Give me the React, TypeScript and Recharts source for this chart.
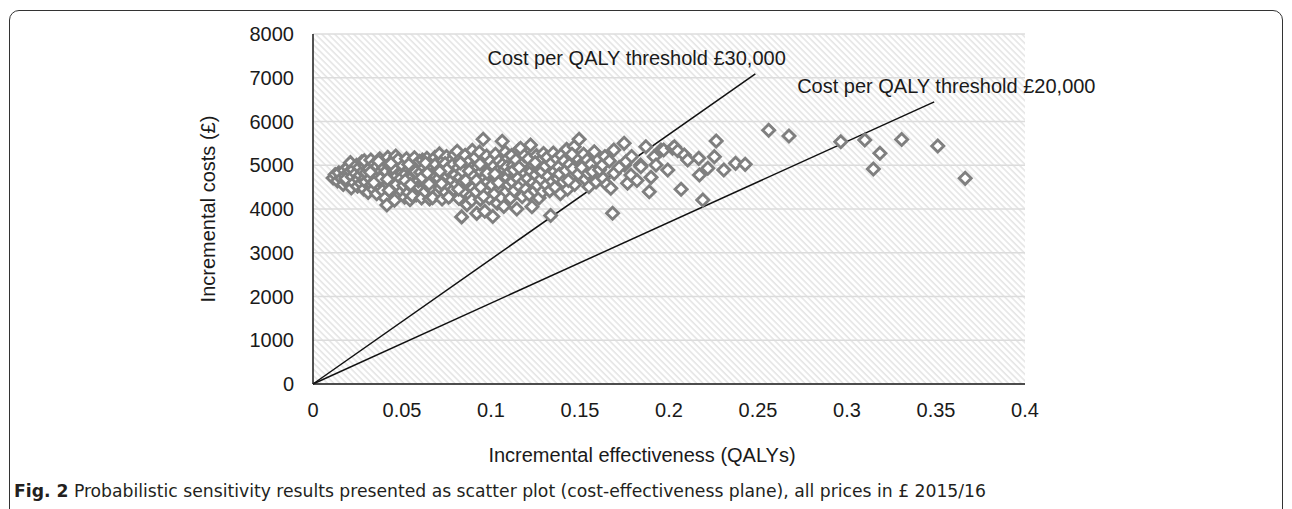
import {
  ScatterChart,
  Scatter,
  XAxis,
  YAxis,
  ZAxis,
  CartesianGrid,
  ReferenceLine,
  ReferenceDot,
} from "recharts"

// x = incremental QALYs, y = incremental cost (£)
const bandA: [number, number][] = [
  [0.0113, 4710], [0.0125, 4790], [0.0138, 4640], [0.0145, 4830],
  [0.016, 4700], [0.017, 4560], [0.0175, 4880], [0.018, 4760], [0.019, 4620], [0.0195, 4950], [0.0198, 4820], [0.0185, 4690],
  [0.021, 5060], [0.0215, 4480], [0.022, 4740], [0.0225, 4900], [0.023, 4600], [0.024, 4810], [0.0245, 5000], [0.025, 4520],
  [0.0255, 4680], [0.026, 4950], [0.0265, 4770], [0.027, 4590], [0.0275, 5080], [0.028, 4860], [0.0285, 4460], [0.029, 4700],
  [0.0292, 4990], [0.0295, 4620], [0.0298, 4830], [0.0288, 5100],
  [0.031, 4380], [0.0315, 4920], [0.032, 4700], [0.0325, 5120], [0.033, 4560], [0.0335, 4810], [0.034, 4450], [0.0345, 5030],
  [0.035, 4650], [0.0352, 4880], [0.0358, 4350], [0.036, 4980], [0.0365, 4740], [0.037, 4530], [0.0375, 5150], [0.038, 4860],
  [0.0385, 4610], [0.039, 4420], [0.0392, 5040], [0.0395, 4770], [0.0398, 4940], [0.0378, 4690], [0.0342, 4600], [0.0368, 5090],
  [0.0322, 4840],
  [0.0405, 4250], [0.041, 4860], [0.0415, 4090], [0.042, 5180], [0.0425, 4560], [0.043, 4990], [0.0435, 4720], [0.044, 4380],
  [0.0445, 5100], [0.045, 4640], [0.0455, 4850], [0.046, 4480], [0.0465, 5210], [0.047, 4760], [0.0475, 4300], [0.048, 4950],
  [0.0485, 4600], [0.049, 5060], [0.0495, 4420], [0.0498, 4820], [0.0418, 4680], [0.0428, 4430], [0.0448, 4940], [0.0468, 4560],
  [0.0478, 5130], [0.0492, 4700], [0.0438, 5040], [0.0458, 4200],
]

const bandB: [number, number][] = [
  [0.0505, 4990], [0.051, 4540], [0.0515, 4270], [0.052, 4800], [0.0525, 5150], [0.053, 4660], [0.0535, 4380], [0.054, 4920],
  [0.0545, 4210], [0.055, 5060], [0.0555, 4720], [0.056, 4480], [0.0565, 4870], [0.057, 5170], [0.0575, 4600], [0.058, 4320],
  [0.0585, 4980], [0.059, 4760], [0.0595, 4500], [0.0598, 5090], [0.0518, 4650], [0.0538, 5020], [0.0558, 4300], [0.0578, 4850],
  [0.0592, 4640], [0.0548, 4560],
  [0.0605, 4840], [0.061, 4250], [0.0615, 5120], [0.062, 4620], [0.0625, 4950], [0.063, 4400], [0.0635, 4760], [0.064, 5160],
  [0.0645, 4540], [0.065, 4880], [0.0655, 4230], [0.066, 5030], [0.0665, 4680], [0.067, 4450], [0.0675, 4960], [0.068, 4790],
  [0.0685, 5180], [0.069, 4330], [0.0695, 4600], [0.0698, 4900], [0.0612, 4720], [0.0632, 5050], [0.0652, 4570], [0.0672, 4260],
  [0.0688, 5020], [0.0642, 4820],
  [0.0705, 4700], [0.071, 5260], [0.0715, 4480], [0.072, 4930], [0.0725, 4230], [0.073, 5100], [0.0735, 4620], [0.074, 4820],
  [0.0745, 4380], [0.075, 5200], [0.0755, 4750], [0.076, 4550], [0.0765, 4990], [0.077, 4300], [0.0775, 5110], [0.078, 4660],
  [0.0785, 4880], [0.079, 4450], [0.0795, 5240], [0.0798, 4780], [0.0722, 4580], [0.0742, 5040], [0.0762, 4270], [0.0782, 5000],
  [0.0752, 4900], [0.0712, 4860],
  [0.0805, 4560], [0.081, 5320], [0.0815, 4940], [0.082, 4240], [0.0825, 4720], [0.083, 5150], [0.0835, 3820], [0.084, 4610],
  [0.0845, 4990], [0.085, 4380], [0.0855, 5230], [0.086, 4800], [0.0865, 4100], [0.087, 4560], [0.0875, 5080], [0.088, 4660],
  [0.0885, 4300], [0.089, 4930], [0.0895, 5340], [0.0898, 4480], [0.0818, 4450], [0.0838, 4870], [0.0858, 4650], [0.0878, 4870],
  [0.0892, 4200], [0.0828, 5050],
  [0.0905, 4750], [0.091, 5180], [0.0915, 4400], [0.092, 3900], [0.0925, 4960], [0.093, 4600], [0.0935, 5300], [0.094, 4220],
  [0.0945, 4850], [0.0956, 5593], [0.095, 4520], [0.0955, 5050], [0.096, 4700], [0.0965, 3950], [0.097, 4400], [0.0975, 5210],
  [0.098, 4620], [0.0985, 4900], [0.099, 4250], [0.0995, 5090], [0.0998, 4760], [0.0918, 4650], [0.0938, 5030], [0.0958, 4290],
  [0.0978, 4820], [0.0942, 4500],
]

const bandC: [number, number][] = [
  [0.1005, 4550], [0.101, 3830], [0.1015, 4980], [0.102, 4350], [0.1025, 5250], [0.103, 4700], [0.1035, 4130], [0.104, 4880],
  [0.1045, 5100], [0.105, 4480], [0.1055, 4790], [0.1063, 5550], [0.106, 4250], [0.1065, 5020], [0.107, 4620], [0.1075, 4900],
  [0.108, 5300], [0.1085, 4400], [0.109, 4720], [0.1095, 5160], [0.1098, 4560], [0.1022, 4800], [0.1042, 4600], [0.1072, 4060],
  [0.1088, 4960],
  [0.1105, 4850], [0.111, 4250], [0.1115, 5220], [0.112, 4620], [0.1125, 5000], [0.113, 4420], [0.1135, 4780], [0.114, 5120],
  [0.1145, 4000], [0.115, 4700], [0.1155, 5350], [0.116, 4520], [0.1166, 5387], [0.117, 4900], [0.1175, 4280], [0.118, 5050],
  [0.1185, 4640], [0.119, 4820], [0.1195, 4450], [0.1128, 4890], [0.1158, 4950], [0.1188, 5220],
  [0.1205, 4700], [0.121, 5150], [0.1215, 4330], [0.1222, 5463], [0.1225, 4860], [0.123, 4050], [0.1235, 4600], [0.124, 5000],
  [0.1245, 4420], [0.125, 4780], [0.1255, 5220], [0.126, 4540], [0.1265, 4920], [0.127, 4250], [0.1275, 5100], [0.128, 4680],
  [0.1285, 4860], [0.129, 4400], [0.1295, 5270], [0.1248, 5060],
  [0.1305, 4980], [0.131, 4550], [0.1315, 5180], [0.132, 4750], [0.1335, 3850], [0.133, 4420], [0.134, 5050], [0.1345, 4630],
  [0.135, 5280], [0.1355, 4860], [0.136, 4500], [0.137, 5150], [0.1375, 4700], [0.138, 4960], [0.139, 4350], [0.1395, 5230],
  [0.1385, 4800],
  [0.1405, 4620], [0.141, 5100], [0.142, 4880], [0.1425, 5363], [0.143, 4450], [0.144, 5020], [0.145, 4720], [0.1467, 5424],
  [0.146, 4920], [0.147, 4560], [0.148, 5180], [0.1495, 5593], [0.149, 4800], [0.1455, 5250], [0.1435, 4650],
]

const tail: [number, number][] = [
  [0.151, 4950], [0.152, 5250], [0.153, 4680], [0.154, 5120], [0.1545, 4815], [0.155, 4510], [0.156, 5020], [0.157, 4850],
  [0.158, 5310], [0.159, 4620], [0.161, 4900], [0.1626, 5006], [0.163, 4700], [0.164, 5200], [0.165, 4560], [0.1673, 4473],
  [0.1683, 3902], [0.169, 5349], [0.1692, 4815], [0.1665, 5100], [0.1748, 5501], [0.175, 5006], [0.1758, 5081], [0.1767, 4587],
  [0.1786, 4777], [0.172, 4950], [0.179, 5200], [0.184, 5006], [0.1842, 4967], [0.187, 5424], [0.1889, 4395], [0.1899, 4724],
  [0.182, 4650], [0.1917, 5196], [0.1927, 5006], [0.1955, 5349], [0.197, 5349], [0.1993, 4891], [0.202, 5387], [0.203, 5424],
  [0.2049, 5333], [0.2068, 4450], [0.2086, 5234], [0.2105, 5120], [0.2167, 5158], [0.2171, 4777], [0.219, 4206], [0.2218, 4930],
  [0.2255, 5196], [0.2265, 5554], [0.2308, 4891], [0.2374, 5044], [0.2428, 5021],
]

const outliers: [number, number][] = [
  [0.256, 5800], [0.2674, 5669], [0.2965, 5538], [0.31, 5577], [0.3148, 4914], [0.3185, 5273], [0.3307, 5590], [0.351, 5440],
  [0.3664, 4701],
]

const threshold30k: [number, number][] = [[0, 0], [0.2485, 7090]]
const threshold20k: [number, number][] = [[0, 0], [0.349, 6450]]

const xTicks = [0, 0.05, 0.1, 0.15, 0.2, 0.25, 0.3, 0.35, 0.4]
const yTicks = [0, 1000, 2000, 3000, 4000, 5000, 6000, 7000, 8000]

const points = [...bandA, ...bandB, ...bandC, ...tail, ...outliers].map(([q, c]) => ({ q, c }))

const font = "'Liberation Sans', Arial, sans-serif"

const Diamond = (props: any) => {
  const { cx, cy } = props
  const r = 6
  return (
    <path
      d={`M${cx},${cy - r}L${cx + r},${cy}L${cx},${cy + r}L${cx - r},${cy}Z`}
      fill="#ffffff"
      stroke="#7f7f7f"
      strokeWidth={2.9}
    />
  )
}

const lineLabel = (text: string) => (props: any) => {
  const { viewBox } = props
  return (
    <text x={viewBox.x} y={viewBox.y} dy="0.35em" fontSize={20} fontFamily={font} fill="#1a1a1a">
      {text}
    </text>
  )
}

export default function App() {
  return (
    <div style={{ position: "absolute", left: 0, top: 0, width: 1292, height: 509, overflow: "hidden", background: "#fff" }}>
      <svg width={0} height={0} style={{ position: "absolute" }}>
        <defs>
          <pattern id="hatch" patternUnits="userSpaceOnUse" width={4.5} height={4.5} patternTransform="rotate(-45)">
            <rect width={4.5} height={4.5} fill="#ffffff" />
            <line x1={1} y1={0} x2={1} y2={4.5} stroke="#e2e2e2" strokeWidth={1.4} />
          </pattern>
        </defs>
      </svg>
      <div
        style={{
          position: "absolute",
          left: 9,
          top: 10,
          width: 1272,
          height: 560,
          border: "1.5px solid #333",
          borderRadius: 10,
        }}
      />
      <div style={{ position: "absolute", left: 0, top: 0 }}>
        <ScatterChart width={1292} height={509} margin={{ top: 34, right: 267, bottom: 95, left: 233 }}>
          <CartesianGrid vertical={false} stroke="#dcdcdc" strokeWidth={1.6} fill="url(#hatch)" fillOpacity={1} />
          <XAxis
            type="number"
            dataKey="q"
            domain={[0, 0.4]}
            ticks={xTicks}
            height={30}
            tickSize={0}
            tickMargin={19}
            tick={{ fontSize: 20, fontFamily: font, fill: "#1a1a1a" }}
            stroke="#1a1a1a"
            strokeWidth={1.5}
            tickFormatter={(v: number) => String(v)}
          />
          <YAxis
            type="number"
            dataKey="c"
            domain={[0, 8000]}
            ticks={yTicks}
            width={80}
            tickSize={0}
            tickMargin={19}
            tick={{ fontSize: 20, fontFamily: font, fill: "#1a1a1a" }}
            stroke="#1a1a1a"
            strokeWidth={1.5}
          />
          <ZAxis range={[60, 60]} />
          <Scatter data={points} shape={Diamond} isAnimationActive={false} />
          <ReferenceLine
            segment={threshold30k.map(([x, y]) => ({ x, y }))}
            stroke="#111"
            strokeWidth={1.5}
          />
          <ReferenceLine
            segment={threshold20k.map(([x, y]) => ({ x, y }))}
            stroke="#111"
            strokeWidth={1.5}
          />
          <ReferenceDot x={0.098} y={7450} r={0} fill="none" stroke="none" label={lineLabel("Cost per QALY threshold £30,000")} />
          <ReferenceDot x={0.272} y={6810} r={0} fill="none" stroke="none" label={lineLabel("Cost per QALY threshold £20,000")} />
        </ScatterChart>
      </div>
      <svg width={1292} height={509} style={{ position: "absolute", left: 0, top: 0, pointerEvents: "none" }}>
        <text x={642} y={455} dy="0.35em" textAnchor="middle" fontSize={20} fontFamily={font} fill="#1a1a1a">
          Incremental effectiveness (QALYs)
        </text>
        <text
          x={208}
          y={209}
          dy="0.35em"
          textAnchor="middle"
          fontSize={20}
          fontFamily={font}
          fill="#1a1a1a"
          transform="rotate(-90 208 209)"
        >
          Incremental costs (£)
        </text>
        <text
          x={14}
          y={497}
          fontSize={17}
          fontFamily="'Liberation Sans Narrow', 'DejaVu Sans Condensed', sans-serif"
          fill="#231f20"
          textLength={972}
          lengthAdjust="spacingAndGlyphs"
        >
          <tspan fontWeight="bold">Fig. 2</tspan> Probabilistic sensitivity results presented as scatter plot (cost-effectiveness
          plane), all prices in £ 2015/16
        </text>
      </svg>
    </div>
  )
}
